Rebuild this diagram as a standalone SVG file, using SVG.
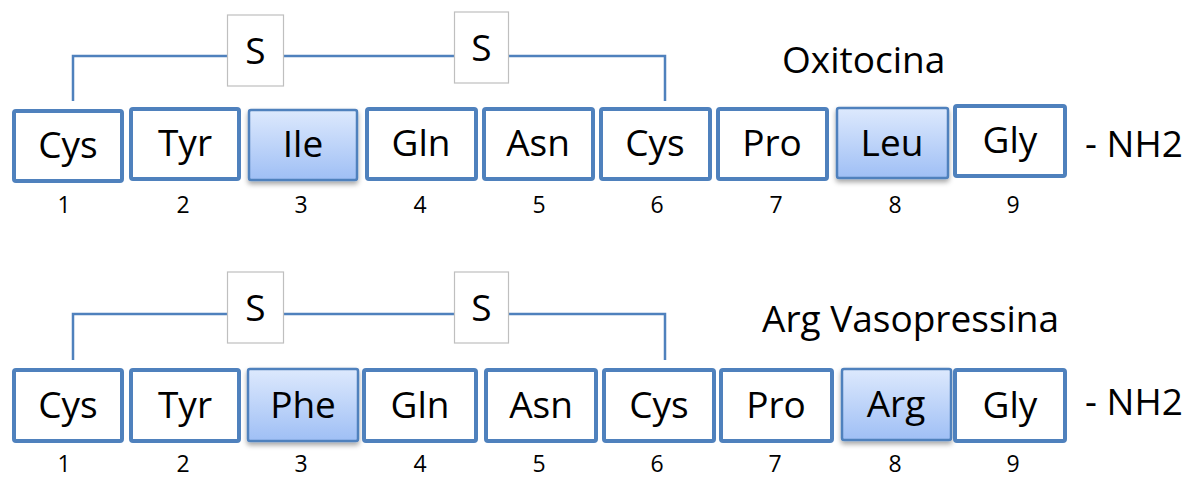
<svg xmlns="http://www.w3.org/2000/svg" width="1194" height="479" viewBox="0 0 1194 479">
<defs>
<linearGradient id="fillG" x1="0" y1="0" x2="0" y2="1">
<stop offset="0" stop-color="#dde9fd"/>
<stop offset="1" stop-color="#9fbff5"/>
</linearGradient>
<filter id="sh" x="-10%" y="-10%" width="120%" height="130%">
<feDropShadow dx="0" dy="3" stdDeviation="2.5" flood-color="#000" flood-opacity="0.35"/>
</filter>
<style>
.box{fill:#fff;stroke:#4f81bd;stroke-width:4}
.hbox{fill:url(#fillG);stroke:#4f81bd;stroke-width:2.5;filter:url(#sh)}
.sbox{fill:#fff;stroke:#bfbfbf;stroke-width:1.2}
.lbl{font-family:"Open Sans","Liberation Sans",sans-serif;font-size:37px;fill:#000;text-anchor:middle}
.num{font-family:"Open Sans","Liberation Sans",sans-serif;font-size:23px;fill:#000;text-anchor:middle}
.title{font-family:"Open Sans","Liberation Sans",sans-serif;font-size:37px;fill:#000}
.link{fill:none;stroke:#4f81bd;stroke-width:2.5}
</style>
</defs>
<rect width="1194" height="479" fill="#fff"/>

<g id="connectors">
<path class="link" d="M73,101 V56 H665 V101"/>
<path class="link" d="M73,360 V314 H665 V360"/>
</g>

<g id="oxitocina">
<g id="ox-s1"><rect class="sbox" x="227.5" y="15" width="56" height="71"/><text class="lbl" x="255.5" y="64">S</text></g>
<g id="ox-s2"><rect class="sbox" x="454.5" y="12" width="54" height="71"/><text class="lbl" x="481.5" y="61">S</text></g>
<text class="title" x="782" y="73">Oxitocina</text>
<g id="ox-1"><rect class="box" x="14" y="111" width="108" height="70" rx="2"/><text class="lbl" x="68" y="158">Cys</text><text class="num" x="64" y="213">1</text></g>
<g id="ox-2"><rect class="box" x="131" y="109" width="108" height="70" rx="2"/><text class="lbl" x="185" y="156">Tyr</text><text class="num" x="183" y="213">2</text></g>
<g id="ox-3"><rect class="hbox" x="249" y="110" width="108" height="70" rx="2"/><text class="lbl" x="303" y="157">Ile</text><text class="num" x="301" y="213">3</text></g>
<g id="ox-4"><rect class="box" x="367" y="109" width="109" height="70" rx="2"/><text class="lbl" x="421" y="156">Gln</text><text class="num" x="420" y="213">4</text></g>
<g id="ox-5"><rect class="box" x="484" y="109" width="109" height="70" rx="2"/><text class="lbl" x="538" y="156">Asn</text><text class="num" x="539" y="213">5</text></g>
<g id="ox-6"><rect class="box" x="601" y="109" width="109" height="70" rx="2"/><text class="lbl" x="655" y="156">Cys</text><text class="num" x="657" y="213">6</text></g>
<g id="ox-7"><rect class="box" x="718" y="109" width="109" height="70" rx="2"/><text class="lbl" x="772" y="156">Pro</text><text class="num" x="776" y="213">7</text></g>
<g id="ox-8"><rect class="hbox" x="837" y="108" width="111" height="70" rx="2"/><text class="lbl" x="892" y="156">Leu</text><text class="num" x="895" y="213">8</text></g>
<g id="ox-9"><rect class="box" x="955" y="106" width="110" height="70" rx="2"/><text class="lbl" x="1010" y="153">Gly</text><text class="num" x="1013" y="213">9</text></g>
<text class="title" x="1085" y="157">- NH2</text>
</g>

<g id="vasopressina">
<g id="av-s1"><rect class="sbox" x="227.5" y="272" width="56" height="71"/><text class="lbl" x="255.5" y="321">S</text></g>
<g id="av-s2"><rect class="sbox" x="454.5" y="272" width="54" height="71"/><text class="lbl" x="481.5" y="321">S</text></g>
<text class="title" x="762" y="332">Arg Vasopressina</text>
<g id="av-1"><rect class="box" x="14" y="370" width="108" height="71" rx="2"/><text class="lbl" x="68" y="418">Cys</text><text class="num" x="64" y="472">1</text></g>
<g id="av-2"><rect class="box" x="131" y="370" width="108" height="71" rx="2"/><text class="lbl" x="185" y="418">Tyr</text><text class="num" x="183" y="472">2</text></g>
<g id="av-3"><rect class="hbox" x="248" y="369" width="110" height="72" rx="2"/><text class="lbl" x="303" y="418">Phe</text><text class="num" x="301" y="472">3</text></g>
<g id="av-4"><rect class="box" x="364" y="370" width="112" height="71" rx="2"/><text class="lbl" x="420" y="418">Gln</text><text class="num" x="420" y="472">4</text></g>
<g id="av-5"><rect class="box" x="486" y="370" width="110" height="71" rx="2"/><text class="lbl" x="541" y="418">Asn</text><text class="num" x="539" y="472">5</text></g>
<g id="av-6"><rect class="box" x="604" y="370" width="110" height="71" rx="2"/><text class="lbl" x="659" y="418">Cys</text><text class="num" x="657" y="472">6</text></g>
<g id="av-7"><rect class="box" x="721" y="370" width="111" height="71" rx="2"/><text class="lbl" x="776" y="418">Pro</text><text class="num" x="775" y="472">7</text></g>
<g id="av-8"><rect class="hbox" x="842" y="369" width="109" height="71" rx="2"/><text class="lbl" x="896" y="417">Arg</text><text class="num" x="895" y="472">8</text></g>
<g id="av-9"><rect class="box" x="955" y="370" width="110" height="71" rx="2"/><text class="lbl" x="1010" y="418">Gly</text><text class="num" x="1013" y="472">9</text></g>
<text class="title" x="1085" y="415">- NH2</text>
</g>
</svg>
